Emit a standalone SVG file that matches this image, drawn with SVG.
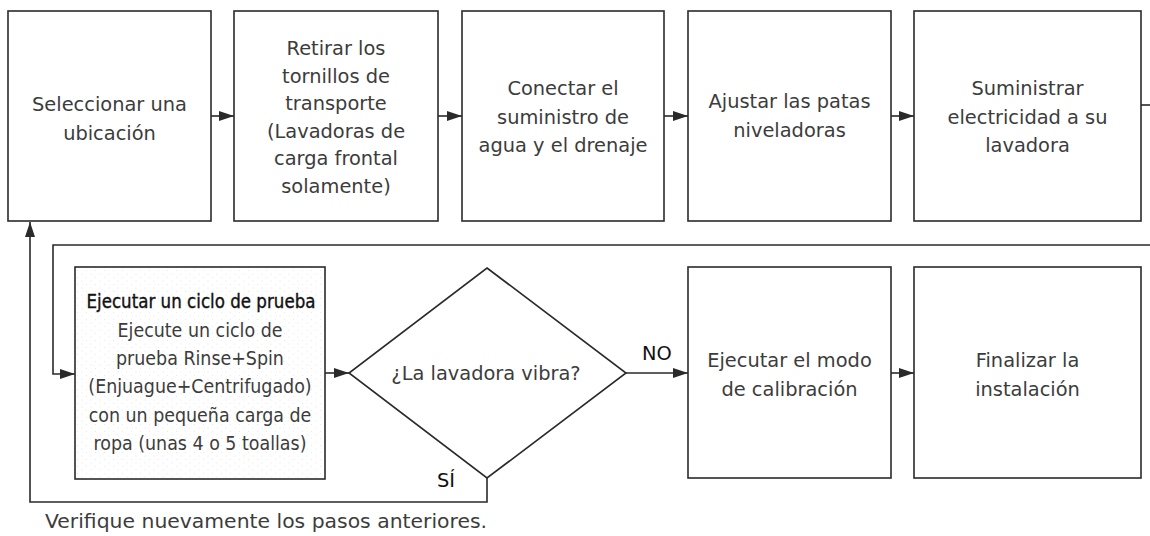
<svg xmlns="http://www.w3.org/2000/svg" width="1150" height="536" viewBox="0 0 1150 536">
<style>
.box{fill:#fff;stroke:#2a2a2a;stroke-width:1.6}
.tx{font-family:"DejaVu Sans",sans-serif;font-size:19.4px;fill:#3c3c3c;text-anchor:middle}
.tc{font-family:"DejaVu Sans Condensed","DejaVu Sans",sans-serif;font-size:19.4px;fill:#3c3c3c;text-anchor:middle}
.th{fill:#111;stroke:#111;stroke-width:0.35}
.lbl{font-family:"DejaVu Sans",sans-serif;font-size:19.4px;fill:#111;text-anchor:middle}
.ln{fill:none;stroke:#2a2a2a;stroke-width:1.6}
</style>
<defs>
<marker id="ah" markerUnits="userSpaceOnUse" markerWidth="16" markerHeight="11" refX="15" refY="5" orient="auto">
<path d="M0,0 L15,5 L0,10 z" fill="#2a2a2a"/>
</marker>
<pattern id="tex" width="9" height="7" patternUnits="userSpaceOnUse">
<circle cx="1" cy="1" r="0.45" fill="#c8c8c8"/>
<circle cx="5.5" cy="4.5" r="0.45" fill="#d4d4d4"/>
</pattern>
</defs>
<g id="connectors">
<line class="ln" x1="211" y1="116" x2="234" y2="116" marker-end="url(#ah)"/>
<line class="ln" x1="438" y1="116" x2="462" y2="116" marker-end="url(#ah)"/>
<line class="ln" x1="664" y1="116" x2="688" y2="116" marker-end="url(#ah)"/>
<line class="ln" x1="891" y1="116" x2="914" y2="116" marker-end="url(#ah)"/>
<line class="ln" x1="1141" y1="105" x2="1150" y2="105"/>
<polyline class="ln" points="1150,245 53,245 53,374 75,374" marker-end="url(#ah)"/>
<line class="ln" x1="325" y1="373" x2="349" y2="373" marker-end="url(#ah)"/>
<line class="ln" x1="626" y1="373" x2="688" y2="373" marker-end="url(#ah)"/>
<line class="ln" x1="891" y1="373" x2="914" y2="373" marker-end="url(#ah)"/>
<polyline class="ln" points="487,478 487,502 30,502 30,222" marker-end="url(#ah)"/>
<text class="lbl" x="657" y="360">NO</text>
<text class="lbl" x="446" y="487">SÍ</text>
<text class="tx" x="45" y="528" style="text-anchor:start" textLength="442" lengthAdjust="spacingAndGlyphs">Verifique nuevamente los pasos anteriores.</text>
</g>
<g id="n1">
<rect class="box" x="8" y="11" width="203" height="210"/>
<text class="tx" x="109.5" y="111">Seleccionar una</text>
<text class="tx" x="109.5" y="140">ubicación</text>
</g>
<g id="n2">
<rect class="box" x="234" y="11" width="204" height="210"/>
<text class="tx" x="336" y="55">Retirar los</text>
<text class="tx" x="336" y="82.5">tornillos de</text>
<text class="tx" x="336" y="110">transporte</text>
<text class="tx" x="336" y="137.5">(Lavadoras de</text>
<text class="tx" x="336" y="165">carga frontal</text>
<text class="tx" x="336" y="192.5">solamente)</text>
</g>
<g id="n3">
<rect class="box" x="462" y="11" width="202" height="210"/>
<text class="tx" x="563" y="95">Conectar el</text>
<text class="tx" x="563" y="123.5">suministro de</text>
<text class="tx" x="563" y="152">agua y el drenaje</text>
</g>
<g id="n4">
<rect class="box" x="688" y="11" width="203" height="210"/>
<text class="tx" x="789.5" y="108">Ajustar las patas</text>
<text class="tx" x="789.5" y="137">niveladoras</text>
</g>
<g id="n5">
<rect class="box" x="914" y="11" width="227" height="210"/>
<text class="tx" x="1027.5" y="95">Suministrar</text>
<text class="tx" x="1027.5" y="123.5">electricidad a su</text>
<text class="tx" x="1027.5" y="152">lavadora</text>
</g>
<g id="n6">
<rect class="box" x="75" y="267" width="250" height="212"/>
<rect x="76" y="268" width="248" height="210" fill="url(#tex)"/>
<text class="tc th" x="201" y="308" textLength="229" lengthAdjust="spacingAndGlyphs">Ejecutar un ciclo de prueba</text>
<text class="tc" x="200" y="337">Ejecute un ciclo de</text>
<text class="tc" x="200" y="365">prueba Rinse+Spin</text>
<text class="tc" x="200" y="393">(Enjuague+Centrifugado)</text>
<text class="tc" x="200" y="422">con un pequeña carga de</text>
<text class="tc" x="200" y="450">ropa (unas 4 o 5 toallas)</text>
</g>
<g id="n7">
<polygon class="box" points="487,268 626,373 487,478 349,373"/>
<text class="tx" x="486" y="380">¿La lavadora vibra?</text>
</g>
<g id="n8">
<rect class="box" x="688" y="267" width="203" height="211"/>
<text class="tx" x="789.5" y="367">Ejecutar el modo</text>
<text class="tx" x="789.5" y="396">de calibración</text>
</g>
<g id="n9">
<rect class="box" x="914" y="267" width="227" height="211"/>
<text class="tx" x="1027.5" y="367">Finalizar la</text>
<text class="tx" x="1027.5" y="396">instalación</text>
</g>
</svg>
